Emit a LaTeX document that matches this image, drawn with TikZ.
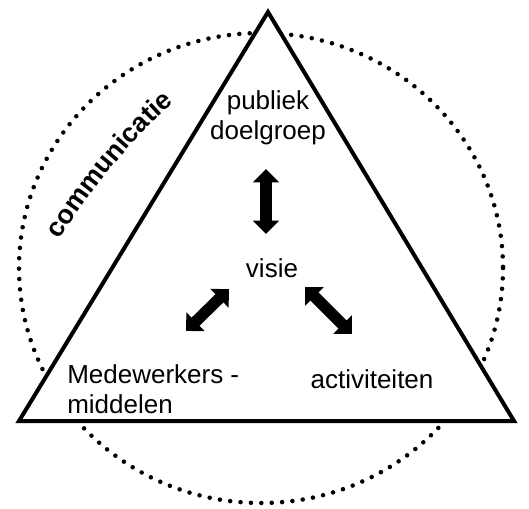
\documentclass[tikz,border=0pt]{standalone}
\usepackage{fontspec}
\setmainfont{Liberation Sans}
\usetikzlibrary{arrows.meta,decorations.text}
\tikzset{
  lbl/.style={font=\fontsize{19.5}{22.5}\selectfont, inner sep=0pt},
  dblarrow/.style={line width=8.5pt, {Triangle[width=19pt,length=10pt]}-{Triangle[width=19pt,length=10pt]}},
  ring/.style={line width=3.4pt, line cap=round, dash pattern=on 0pt off 7.8pt},
  tri/.style={line width=3pt, fill=white, line join=miter},
  arctext/.style={decorate, decoration={text along path, text format delimiters={|}{|},
    text={|\bfseries\fontsize{20}{24}\selectfont|communicatie}}}
}
\begin{document}
\begin{tikzpicture}[x=0.75pt,y=-0.75pt]
\useasboundingbox (0,0) rectangle (529,508);
% dotted circle
\draw[ring] (261,268) ellipse [x radius=242, y radius=235];
% triangle
\coordinate (A) at (268,12);
\coordinate (B) at (19,421);
\coordinate (C) at (514,421);
\draw[tri] (A) -- (B) -- (C) -- cycle;
% curved label
\coordinate (cs) at (60,240);
\coordinate (ce) at (178,100);
\path[arctext] (cs) .. controls (82,201) and (140,128) .. (ce);
% labels
\node[lbl, align=center] (pub) at (268,118) {publiek\\doelgroep};
\node[lbl] (vis) at (272,268) {visie};
\node[lbl, align=left, anchor=west] (med) at (67,389) {Medewerkers -\\middelen};
\node[lbl] (act) at (372,379) {activiteiten};
% arrows
\coordinate (v1) at (266,169);
\coordinate (v2) at (266,234);
\coordinate (l1) at (229,289);
\coordinate (l2) at (186,331);
\coordinate (r1) at (305,287);
\coordinate (r2) at (352,334);
\draw[dblarrow] (v1) -- (v2);
\draw[dblarrow] (l1) -- (l2);
\draw[dblarrow] (r1) -- (r2);
\end{tikzpicture}
\end{document}
